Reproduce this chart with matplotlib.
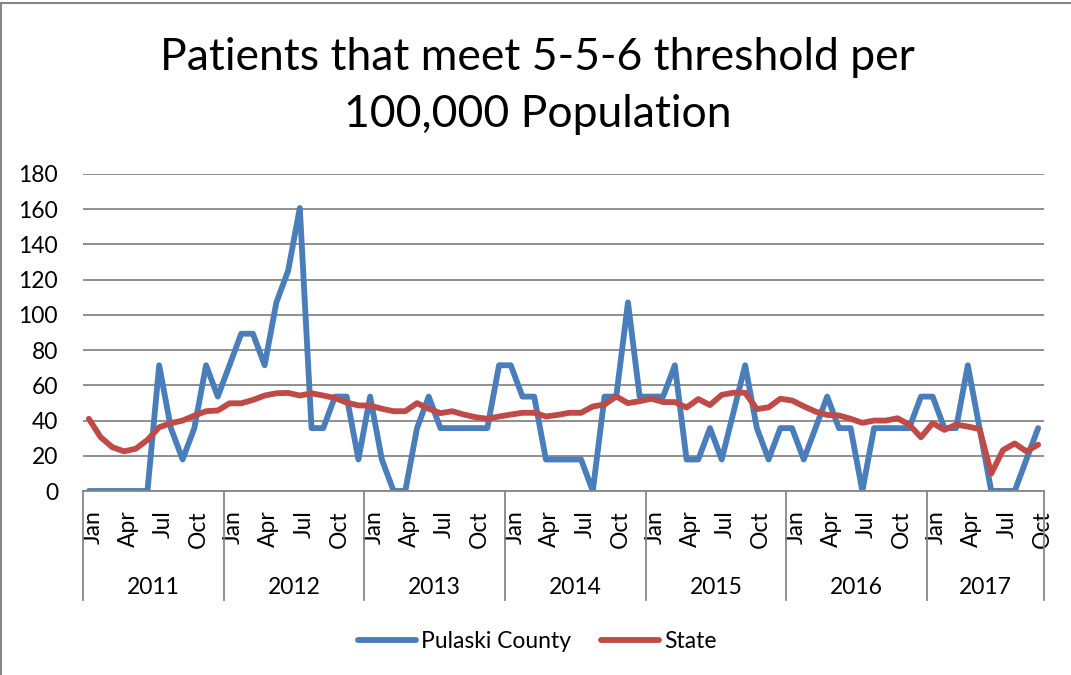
import numpy as np
import matplotlib
matplotlib.use('Agg')
import matplotlib.pyplot as plt
import matplotlib.transforms as mtransforms
from matplotlib.lines import Line2D

plt.rcParams['font.family'] = ['Lato', 'DejaVu Sans']

# Data (monthly, Jan 2011 - Oct 2017)
years = ['2011', '2012', '2013', '2014', '2015', '2016', '2017']
month_names = ['Jan', 'Feb', 'Mar', 'Apr', 'May', 'Jun',
               'Jul', 'Aug', 'Sep', 'Oct', 'Nov', 'Dec']

pulaski = [
    0, 0, 0, 0, 0, 0, 71.4, 35.7, 17.9, 35.7, 71.4, 53.6,            # 2011
    71.4, 89.3, 89.3, 71.4, 107.1, 125.0, 160.7, 35.7, 35.7, 53.6, 53.6, 17.9,  # 2012
    53.6, 17.9, 0, 0, 35.7, 53.6, 35.7, 35.7, 35.7, 35.7, 35.7, 71.4,  # 2013
    71.4, 53.6, 53.6, 17.9, 17.9, 17.9, 17.9, 0, 53.6, 53.6, 107.1, 53.6,  # 2014
    53.6, 53.6, 71.4, 17.9, 17.9, 35.7, 17.9, 44.6, 71.4, 35.7, 17.9, 35.7,  # 2015
    35.7, 17.9, 35.7, 53.6, 35.7, 35.7, 0, 35.7, 35.7, 35.7, 35.7, 53.6,  # 2016
    53.6, 35.7, 35.7, 71.4, 35.7, 0, 0, 0, 17.9, 35.7,  # 2017
]

state = [
    41.0, 30.6, 24.9, 22.5, 24.0, 29.0, 36.2, 38.5, 40.0, 42.8, 45.3, 45.7,
    49.8, 49.8, 51.7, 54.2, 55.5, 55.7, 54.2, 55.5, 54.2, 52.8, 50.2, 48.6,
    48.5, 46.7, 45.3, 45.3, 49.9, 46.7, 44.2, 45.3, 43.4, 41.9, 41.0, 42.3,
    43.4, 44.4, 44.4, 42.3, 43.2, 44.4, 44.4, 48.0, 49.1, 53.7, 49.9, 51.0,
    52.4, 50.5, 50.5, 47.4, 52.2, 48.8, 54.6, 55.8, 55.8, 46.5, 47.5, 52.4,
    51.4, 48.1, 45.1, 43.2, 42.9, 41.0, 38.7, 40.0, 40.0, 41.3, 37.7, 30.5,
    38.5, 34.7, 37.7, 36.6, 35.2, 9.9, 23.2, 27.0, 22.5, 26.3,
]

n = len(pulaski)
x = np.arange(n)
grey = '#878787'

fig = plt.figure(figsize=(10.71, 6.75), dpi=100)
ax = fig.add_axes([83 / 1071, 1 - 491 / 675, (1044 - 83) / 1071, (491 - 174) / 675])

ax.plot(x, pulaski, color='#4A7EBB', lw=4.2, label='Pulaski County',
        solid_joinstyle='round', solid_capstyle='round')
ax.plot(x, state, color='#BE4B48', lw=4.2, label='State',
        solid_joinstyle='round', solid_capstyle='round')

ax.set_xlim(-0.5, n - 0.5)
ax.set_ylim(0, 180)
ax.set_yticks(np.arange(0, 181, 20))
ax.yaxis.grid(True, color=grey, lw=1.3)
ax.set_axisbelow(True)
for side in ['left', 'right', 'top']:
    ax.spines[side].set_visible(False)
ax.spines['bottom'].set_color(grey)
ax.spines['bottom'].set_linewidth(1.3)
ax.tick_params(axis='y', length=0, pad=18, labelsize=16.5)

# month labels every three months
tick_pos = [i for i in range(n) if i % 3 == 0]
tick_lab = [month_names[i % 12] for i in tick_pos]
ax.set_xticks(tick_pos)
ax.set_xticklabels(tick_lab, rotation=90, fontsize=16.5)
ax.tick_params(axis='x', length=0, pad=14)
shift = mtransforms.ScaledTranslation(4 / 100, 0, fig.dpi_scale_trans)
for lab in ax.get_xticklabels():
    lab.set_transform(lab.get_transform() + shift)

# year group labels and separators
trans = mtransforms.blended_transform_factory(ax.transData, ax.transAxes)
bounds = list(np.arange(-0.5, n, 12)) + [n - 0.5]
for b in bounds:
    ax.add_line(Line2D([b, b], [0, -0.344], transform=trans, color=grey,
                       lw=1.3, clip_on=False))
for k, yr in enumerate(years):
    c = (bounds[k] + bounds[k + 1]) / 2
    ax.text(c, -0.303, yr, transform=trans, ha='center', va='center',
            fontsize=16.5)

# title
fig.text(0.502, 1 - 70 / 675, 'Patients that meet 5-5-6 threshold per',
         ha='center', va='baseline', fontsize=32)
fig.text(0.502, 1 - 127 / 675, '100,000 Population',
         ha='center', va='baseline', fontsize=32)

fig.legend(loc='center', bbox_to_anchor=(0.502, 1 - 642 / 675), ncol=2,
           frameon=False, fontsize=16.5, handlelength=2.5,
           handletextpad=0.25, columnspacing=1.3)

# chart border (left and top edges visible)
fig.add_artist(Line2D([0.001, 0.001], [0, 1 - 3 / 675], color=grey, lw=1.5))
fig.add_artist(Line2D([0, 1], [1 - 3 / 675, 1 - 3 / 675], color=grey, lw=1.5))

fig.savefig('out.png', dpi=100)
